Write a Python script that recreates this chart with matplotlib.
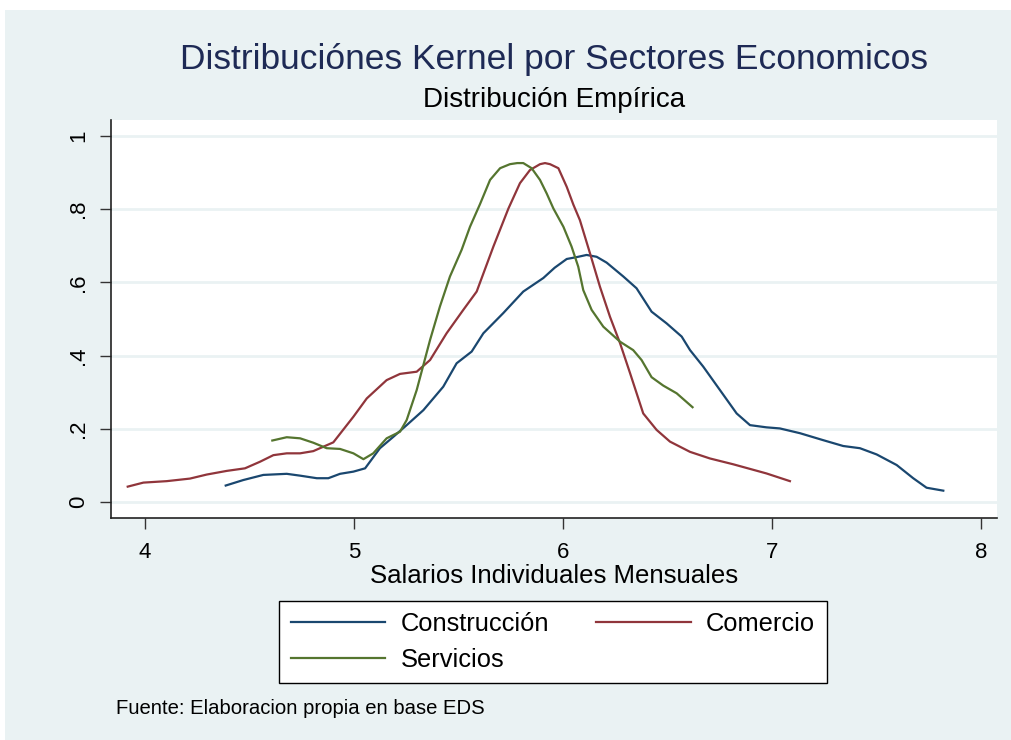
import matplotlib
matplotlib.use("Agg")
import matplotlib.pyplot as plt
from matplotlib.patches import Rectangle

plt.rcParams['font.family'] = ['Liberation Sans', 'DejaVu Sans']

# Data
x_construccion = [4.386, 4.470, 4.566, 4.678, 4.742, 4.822, 4.877, 4.933, 4.997, 5.053,
                  5.124, 5.188, 5.252, 5.332, 5.427, 5.491, 5.563, 5.619, 5.714, 5.810,
                  5.906, 5.960, 6.018, 6.065, 6.113, 6.161, 6.209, 6.289, 6.352, 6.424,
                  6.496, 6.568, 6.608, 6.671, 6.751, 6.831, 6.895, 6.974, 7.038, 7.134,
                  7.245, 7.341, 7.421, 7.501, 7.597, 7.676, 7.740, 7.820]
y_construccion = [0.045, 0.060, 0.074, 0.077, 0.072, 0.065, 0.065, 0.077, 0.083, 0.092,
                  0.147, 0.178, 0.210, 0.251, 0.315, 0.379, 0.411, 0.461, 0.516, 0.575,
                  0.612, 0.640, 0.664, 0.669, 0.675, 0.670, 0.654, 0.616, 0.584, 0.520,
                  0.488, 0.452, 0.415, 0.370, 0.306, 0.242, 0.210, 0.204, 0.201, 0.188,
                  0.169, 0.153, 0.147, 0.130, 0.101, 0.065, 0.039, 0.031]

x_comercio = [3.917, 3.992, 4.104, 4.215, 4.295, 4.391, 4.478, 4.550, 4.614, 4.678,
              4.742, 4.805, 4.901, 4.997, 5.061, 5.156, 5.220, 5.300, 5.364, 5.443,
              5.523, 5.587, 5.667, 5.739, 5.794, 5.842, 5.890, 5.914, 5.938, 5.978,
              6.018, 6.050, 6.081, 6.129, 6.177, 6.225, 6.273, 6.321, 6.384, 6.448,
              6.512, 6.608, 6.703, 6.815, 6.974, 7.086]
y_comercio = [0.042, 0.053, 0.057, 0.064, 0.075, 0.085, 0.092, 0.110, 0.128, 0.133,
              0.133, 0.139, 0.163, 0.233, 0.283, 0.333, 0.350, 0.356, 0.388, 0.461,
              0.525, 0.575, 0.698, 0.802, 0.871, 0.907, 0.923, 0.926, 0.923, 0.912,
              0.861, 0.812, 0.770, 0.680, 0.588, 0.506, 0.434, 0.352, 0.242, 0.197,
              0.165, 0.137, 0.119, 0.103, 0.078, 0.057]

x_servicios = [4.609, 4.678, 4.742, 4.805, 4.869, 4.933, 4.997, 5.045, 5.092, 5.156,
               5.220, 5.252, 5.300, 5.364, 5.411, 5.459, 5.515, 5.555, 5.603, 5.651,
               5.699, 5.746, 5.781, 5.810, 5.850, 5.890, 5.922, 5.954, 6.002, 6.041,
               6.073, 6.097, 6.137, 6.193, 6.273, 6.336, 6.376, 6.424, 6.480, 6.544,
               6.620]
y_servicios = [0.168, 0.177, 0.174, 0.162, 0.147, 0.145, 0.133, 0.117, 0.133, 0.174,
               0.192, 0.224, 0.306, 0.443, 0.534, 0.616, 0.689, 0.752, 0.814, 0.880,
               0.912, 0.923, 0.926, 0.926, 0.912, 0.880, 0.843, 0.802, 0.752, 0.698,
               0.643, 0.579, 0.525, 0.479, 0.438, 0.415, 0.388, 0.341, 0.318, 0.297,
               0.259]

series_names = ["Construcción", "Comercio", "Servicios"]
x_ticks = [4, 5, 6, 7, 8]
y_ticks = [0, 0.2, 0.4, 0.6, 0.8, 1.0]
y_ticklabels = ["0", ".2", ".4", ".6", ".8", "1"]

BG = "#EAF2F3"
colors = ["#1a476f", "#90353b", "#55752f"]

fig = plt.figure(figsize=(10.11, 7.40), dpi=100)
fig.patch.set_facecolor("white")
fig.patches.append(Rectangle((5/1011, 0), 1 - 5/1011, 1 - 10/740,
                             transform=fig.transFigure, facecolor=BG,
                             edgecolor="none", zorder=-10))

ax = fig.add_axes([111/1011, 1 - 518/740, (997 - 111)/1011, (518 - 120)/740])
ax.set_facecolor("white")

lines = {}
for xs, ys, name, c in zip([x_construccion, x_comercio, x_servicios],
                           [y_construccion, y_comercio, y_servicios],
                           series_names, colors):
    lines[name], = ax.plot(xs, ys, color=c, lw=1.6, label=name, zorder=3,
                           solid_joinstyle="round")

ax.set_xlim(3.837, 8.077)
ax.set_ylim(-0.0437, 1.0437)
ax.set_xticks(x_ticks)
ax.set_yticks(y_ticks)
ax.set_yticklabels(y_ticklabels, rotation=90, va="center")
ax.tick_params(axis="both", labelsize=16, length=8, width=1, color="#333333",
               labelcolor="black", direction="out")
ax.tick_params(axis="x", pad=9)
ax.tick_params(axis="y", pad=8)
ax.grid(axis="y", color=BG, lw=2)
ax.set_axisbelow(True)
for s in ["top", "right"]:
    ax.spines[s].set_visible(False)
for s in ["left", "bottom"]:
    ax.spines[s].set_color("#222222")
    ax.spines[s].set_linewidth(1.2)

ax.set_xlabel("Salarios Individuales Mensuales", fontsize=18.5, labelpad=1)

fig.text(554/1011, 1 - 60/740, "Distribuciónes Kernel por Sectores Economicos",
         ha="center", va="center", fontsize=25.5, color="#1e2a55")
fig.text(554/1011, 1 - 100/740, "Distribución Empírica",
         ha="center", va="center", fontsize=20, color="black")
fig.text(116/1011, 1 - 708/740, "Fuente: Elaboracion propia en base EDS",
         ha="left", va="center", fontsize=14.6, color="black")

# row-major order: Construcción, Comercio / Servicios
order = ["Construcción", "Servicios", "Comercio"]
leg = fig.legend([lines[n] for n in order], order,
                 loc="center", bbox_to_anchor=(553/1011, 1 - 642/740), ncol=2,
                 fontsize=18.4, frameon=True, fancybox=False, handlelength=3.7,
                 handletextpad=0.6, columnspacing=1.85, labelspacing=0.45,
                 borderpad=0.45)
leg.get_frame().set_edgecolor("black")
leg.get_frame().set_linewidth(1)
leg.get_frame().set_facecolor("white")
leg.get_frame().set_alpha(1)

fig.savefig("out.png", dpi=100, facecolor=fig.get_facecolor())
